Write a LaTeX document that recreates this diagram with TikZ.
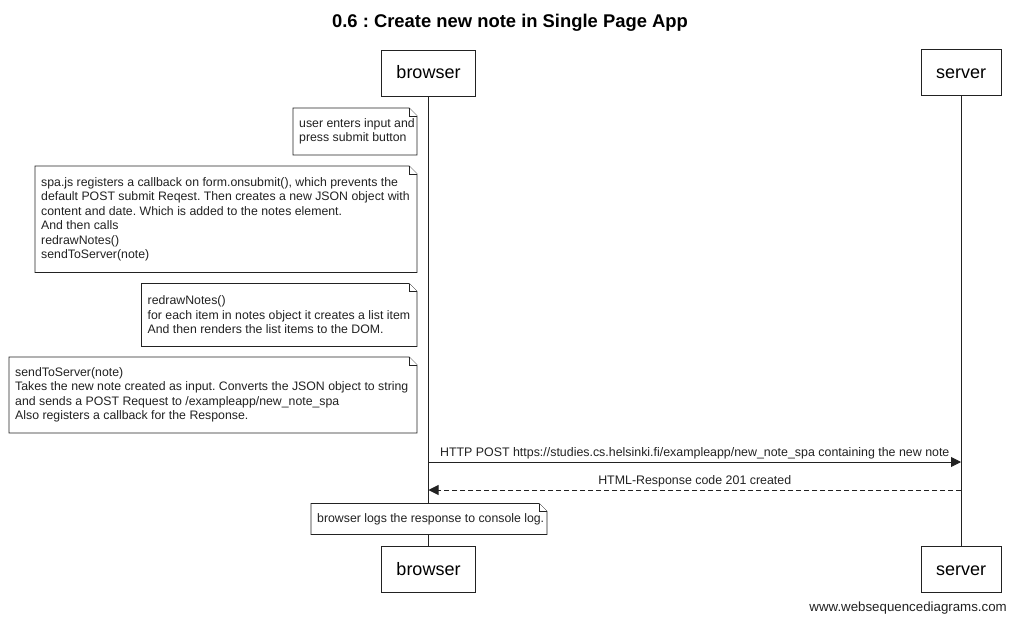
\documentclass[tikz,border=0pt]{standalone}
\usepackage{fontspec}
\setmainfont{Liberation Sans}
\usetikzlibrary{arrows.meta}
\definecolor{ln}{HTML}{222222}
\newcommand\mknote[6]{%
  \draw[noteline] (#2,#3) -- (#4-8,#3) -- (#4,#3+8) -- (#4,#5) -- (#2,#5) -- cycle;
  \draw[noteline] (#4-8,#3) -- (#4-8,#3+8) -- (#4,#3+8);
  \node[notetext, anchor=west] (#1) at (#2+6,{(#3+#5)/2}) {#6};}
\begin{document}
\frenchspacing
\begin{tikzpicture}[x=1pt,y=-1pt,
  actor/.style={draw=ln, line width=0.9pt, fill=white, inner sep=0,
    font=\fontsize{18}{20}\selectfont, text height=15pt, text depth=3pt},
  noteline/.style={draw=ln, line width=0.8pt, fill=white},
  notetext/.style={font=\fontsize{12.3}{14.5}\selectfont, align=left, inner sep=0, text=ln},
  lifeline/.style={draw=ln, line width=0.9pt},
  msg/.style={draw=ln, line width=0.9pt, -{Triangle[length=10pt,width=10pt]}},
  reply/.style={msg, dash pattern=on 5pt off 3pt},
  lbl/.style={font=\fontsize{12.4}{14}\selectfont, text=ln, inner sep=2pt, anchor=south}]
\useasboundingbox (0,0) rectangle (1015,623);
\fill[white] (0,0) rectangle (1015,623);

\node[font=\bfseries\fontsize{18.4}{20}\selectfont, anchor=base] (title) at (510,28) {0.6 : Create new note in Single Page App};

\node[actor, minimum width=94pt, minimum height=46pt] (bt) at (428.5,73) {browser};
\node[actor, minimum width=80pt, minimum height=46pt] (st) at (961,72.5) {server};
\node[actor, minimum width=94pt, minimum height=46pt] (bb) at (428.5,569) {browser};
\node[actor, minimum width=80pt, minimum height=46pt] (sb) at (961,569) {server};

\draw[lifeline] (bt.south) -- (bb.north);
\draw[lifeline] (st.south) -- (sb.north);

\mknote{n1}{293}{108}{417}{155}{user enters input and\\press submit button}
\mknote{n2}{35}{166}{417}{272.5}{spa.js registers a callback on form.onsubmit(), which prevents the\\default POST submit Reqest. Then creates a new JSON object with\\content and date. Which is added to the notes element.\\And then calls\\redrawNotes()\\sendToServer(note)}
\mknote{n3}{141.5}{283.5}{417}{346.5}{redrawNotes()\\for each item in notes object it creates a list item\\And then renders the list items to the DOM.}
\mknote{n4}{9}{357}{417}{433}{sendToServer(note)\\Takes the new note created as input. Converts the JSON object to string\\and sends a POST Request to /exampleapp/new\_note\_spa\\Also registers a callback for the Response.}

\coordinate (m1s) at (428.5,462);
\coordinate (m1e) at (961,462);
\draw[msg] (m1s) -- node[lbl] (l1) {HTTP POST https://studies.cs.helsinki.fi/exampleapp/new\_note\_spa containing the new note} (m1e);

\coordinate (m2s) at (961,490);
\coordinate (m2e) at (428.5,490);
\draw[reply] (m2s) -- node[lbl] (l2) {HTML-Response code 201 created} (m2e);

\mknote{n5}{311}{503.5}{547}{534.5}{browser logs the response to console log.}

\node[font=\fontsize{13.3}{15}\selectfont, anchor=base east, text=ln, inner sep=0] (foot) at (1007,611) {www.websequencediagrams.com};
\end{tikzpicture}
\end{document}
